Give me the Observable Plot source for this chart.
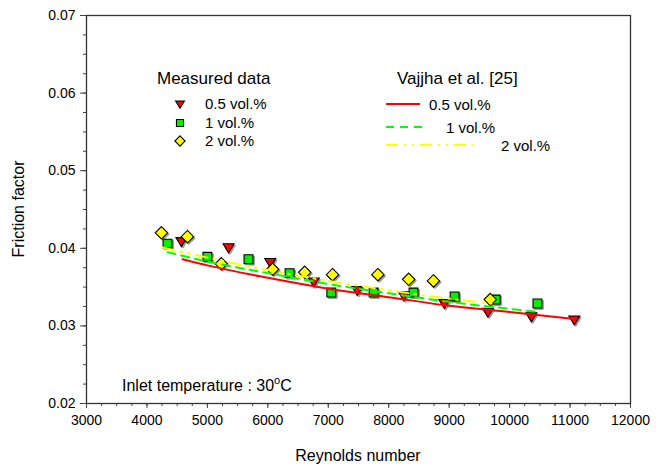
<!DOCTYPE html>
<html><head><meta charset="utf-8">
<script src="https://cdn.jsdelivr.net/npm/d3@7"></script>
<script src="https://cdn.jsdelivr.net/npm/@observablehq/plot@0.6"></script>
<style>body{margin:0;background:#fff}#chart{width:666px;height:470px}</style>
</head><body><div id="chart"></div>
<script>
// Measured data
const reRed = [4570, 5350, 6040, 6760, 7480, 8250, 8920, 9640, 10360, 11070];
const fRed  = [0.0409, 0.0401, 0.0382, 0.0357, 0.0346, 0.0339, 0.0329, 0.0318, 0.0312, 0.0308];
const reGreen = [4340, 5000, 5680, 6360, 7050, 7750, 8410, 9090, 9770, 10460];
const fGreen  = [0.0406, 0.0389, 0.0386, 0.0368, 0.0343, 0.0343, 0.0343, 0.0338, 0.0334, 0.0329];
const reYellow = [4240, 4670, 5230, 6080, 6610, 7070, 7820, 8330, 8740, 9680];
const fYellow  = [0.0420, 0.0415, 0.0380, 0.0373, 0.0369, 0.0366, 0.0366, 0.0360, 0.0358, 0.0334];
// Vajjha et al. [25] correlation curves
const reLineRed = [4590, 5000, 6000, 7000, 8000, 9000, 10000, 11070];
const fLineRed  = [0.0386, 0.0378, 0.0362, 0.0348, 0.0337, 0.0326, 0.0318, 0.0309];
const reLineGreen = [4340, 5000, 6000, 7000, 8000, 9000, 10000, 10460];
const fLineGreen  = [0.0395, 0.0383, 0.0368, 0.0354, 0.0342, 0.0331, 0.0322, 0.0318];
const reLineYellow = [4260, 5000, 6000, 7000, 8000, 9000, 9700];
const fLineYellow  = [0.0401, 0.0388, 0.0372, 0.0358, 0.0346, 0.0335, 0.0329];
// ticks
const xTicks = [3000, 4000, 5000, 6000, 7000, 8000, 9000, 10000, 11000, 12000];
const yTicks = [0.02, 0.03, 0.04, 0.05, 0.06, 0.07];
const seriesLabels = ["0.5 vol.%", "1 vol.%", "2 vol.%"];

const xMinor = d3.range(3000, 12000.1, 250);
const yMinor = d3.range(0, 21).map(i => 0.02 + i * 0.0025);

const pts = (xs, ys) => xs.map((x, i) => ({x, y: ys[i]}));
const red = pts(reRed, fRed), green = pts(reGreen, fGreen), yellow = pts(reYellow, fYellow);
const lRed = pts(reLineRed, fLineRed), lGreen = pts(reLineGreen, fLineGreen), lYellow = pts(reLineYellow, fLineYellow);

const triDown = {draw(ctx, size) {
  const s = Math.sqrt(size);
  ctx.moveTo(-0.62 * s, -0.42 * s);
  ctx.lineTo(0.62 * s, -0.42 * s);
  ctx.lineTo(0, 0.6 * s);
  ctx.closePath();
}};

const RED = "#ff0000", GREEN = "#00ee00", YEL = "#ffff00";
const LGREEN = "#00ff00", LYEL = "#ffff00";
const series = [
  {data: red, symbol: triDown, r: 5, fill: RED},
  {data: green, symbol: "square", r: 5, fill: GREEN},
  {data: yellow, symbol: "diamond2", r: 5.6, fill: YEL}
];
const lines = [
  {data: lRed, stroke: RED, dash: null},
  {data: lGreen, stroke: LGREEN, dash: "8,6"},
  {data: lYellow, stroke: LYEL, dash: "12,6,2,6,2,6"}
];

const font = "'Liberation Sans', Arial, sans-serif";
const plot = Plot.plot({
  width: 666, height: 470,
  marginLeft: 86, marginRight: 36, marginTop: 15, marginBottom: 67,
  style: {fontFamily: font, fontSize: "14px", color: "#000", background: "#fff", overflow: "visible"},
  x: {domain: [3000, 12000], label: null},
  y: {domain: [0.02, 0.07], label: null},
  marks: [
    Plot.axisY({ticks: yMinor, tickSize: 3, tickFormat: () => "", label: null, stroke: "#444"}),
    Plot.axisY({ticks: yTicks, tickSize: 6, tickPadding: 5, tickFormat: d3.format(".2f"), label: null, stroke: "#444", fontSize: 14, fill: "#000"}),
    Plot.axisX({ticks: xMinor, tickSize: 3, tickFormat: () => "", label: null, stroke: "#444"}),
    Plot.axisX({ticks: xTicks, tickSize: 5, tickPadding: 7, tickFormat: d => String(d), label: null, stroke: "#444", fontSize: 14, fill: "#000"}),
    Plot.frame({stroke: "#333", strokeWidth: 1.3}),
    ...series.map(s => Plot.dot(s.data, {x: "x", y: "y", symbol: s.symbol, r: s.r, fill: "#9a9a9a", stroke: "#9a9a9a", strokeWidth: 1, dx: 1.5, dy: 1.5})),
    ...series.map(s => Plot.dot(s.data, {x: "x", y: "y", symbol: s.symbol, r: s.r, fill: s.fill, stroke: "#000", strokeWidth: 1.1})),
    ...lines.map(l => Plot.line(l.data, {x: "x", y: "y", stroke: l.stroke, strokeWidth: 2, strokeDasharray: l.dash, curve: "monotone-x"}))
  ]
});
document.getElementById("chart").appendChild(plot);

const svg = d3.select(plot);
const g = svg.append("g").attr("font-family", font).attr("fill", "#000").attr("text-anchor", "start");
// axis titles
g.append("text").attr("transform", "translate(24,209) rotate(-90)").attr("text-anchor", "middle")
  .attr("font-size", 16).text("Friction factor");
g.append("text").attr("x", 358).attr("y", 461).attr("text-anchor", "middle")
  .attr("font-size", 16).text("Reynolds number");
// legend: measured data
g.append("text").attr("x", 157).attr("y", 84).attr("font-size", 17).text("Measured data");
const symRows = [104, 123, 141];
series.forEach((s, i) => {
  const type = s.symbol === "square" ? d3.symbolSquare : s.symbol === "diamond2" ? d3.symbolDiamond2 : s.symbol;
  const size = (s.r - 1) * (s.r - 1) * Math.PI;
  g.append("path").attr("d", d3.symbol().type(type).size(size)())
    .attr("transform", `translate(${180},${symRows[i]})`).attr("fill", s.fill).attr("stroke", "#000").attr("stroke-width", 1.1);
  g.append("text").attr("x", 205).attr("y", symRows[i] + 5).attr("font-size", 15).text(seriesLabels[i]);
});
// legend: Vajjha
g.append("text").attr("x", 397).attr("y", 84).attr("font-size", 17).text("Vajjha et al. [25]");
const lineRows = [{y: 104, x2: 420, tx: 429}, {y: 127, x2: 427, tx: 446}, {y: 145, x2: 473, tx: 501}];
lines.forEach((l, i) => {
  const r = lineRows[i];
  g.append("line").attr("x1", 386).attr("x2", r.x2).attr("y1", r.y).attr("y2", r.y)
    .attr("stroke", l.stroke).attr("stroke-width", 2).attr("stroke-dasharray", l.dash);
  g.append("text").attr("x", r.tx).attr("y", r.y + 6).attr("font-size", 15).text(seriesLabels[i]);
});
// annotation
const t = g.append("text").attr("x", 122).attr("y", 391).attr("font-size", 16);
t.append("tspan").text("Inlet temperature : 30");
t.append("tspan").attr("dy", -7).attr("font-size", 11).text("o");
t.append("tspan").attr("dy", 7).text("C");
</script>
</body></html>
